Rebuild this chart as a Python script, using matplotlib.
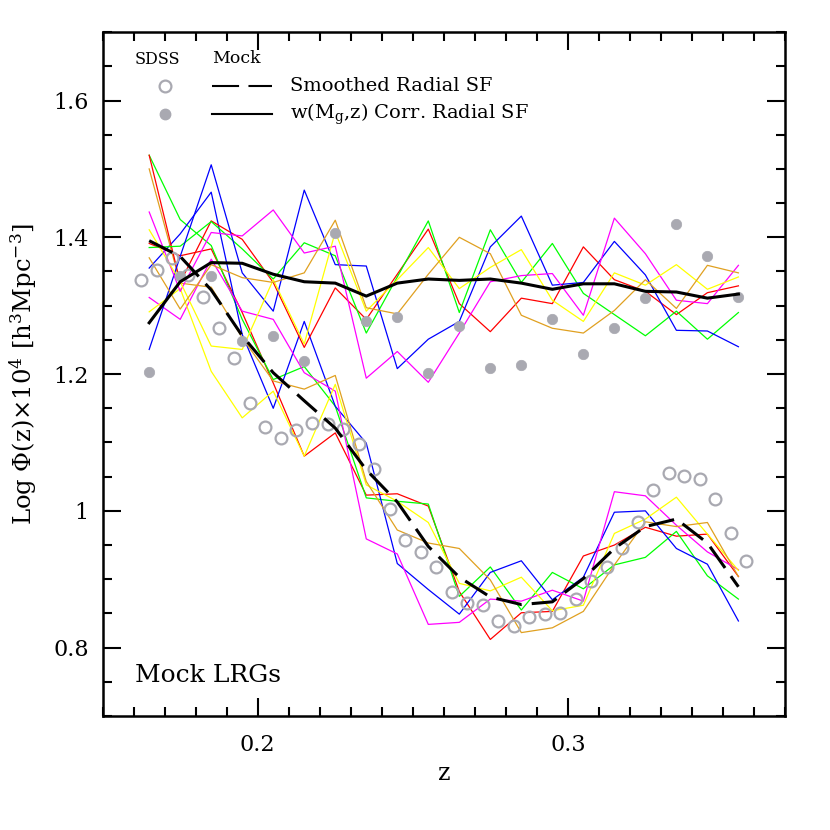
import matplotlib
matplotlib.use("Agg")
import matplotlib.pyplot as plt
from matplotlib.ticker import MultipleLocator, FixedLocator, FixedFormatter

plt.rcParams['font.family'] = ['DejaVu Serif']
plt.rcParams['mathtext.fontset'] = 'dejavuserif'

# ---------------- data ----------------
z_mock = [0.165, 0.175, 0.185, 0.195, 0.205, 0.215, 0.225, 0.235, 0.245, 0.255,
          0.265, 0.275, 0.285, 0.295, 0.305, 0.315, 0.325, 0.335, 0.345, 0.355]

# mock realisations, w(Mg,z) corrected radial selection function
w_red     = [1.520, 1.334, 1.424, 1.397, 1.334, 1.239, 1.326, 1.280, 1.346, 1.412,
             1.303, 1.262, 1.311, 1.303, 1.386, 1.338, 1.321, 1.287, 1.319, 1.329]
w_green   = [1.385, 1.387, 1.423, 1.383, 1.339, 1.392, 1.373, 1.260, 1.342, 1.424,
             1.290, 1.411, 1.334, 1.391, 1.318, 1.287, 1.256, 1.292, 1.251, 1.290]
w_blue    = [1.236, 1.372, 1.506, 1.348, 1.292, 1.469, 1.360, 1.358, 1.208, 1.251,
             1.277, 1.386, 1.431, 1.330, 1.334, 1.394, 1.345, 1.264, 1.263, 1.240]
w_magenta = [1.437, 1.321, 1.407, 1.402, 1.440, 1.377, 1.387, 1.194, 1.233, 1.188,
             1.260, 1.335, 1.344, 1.347, 1.286, 1.428, 1.376, 1.308, 1.303, 1.359]
w_yellow  = [1.411, 1.335, 1.241, 1.236, 1.338, 1.244, 1.408, 1.292, 1.338, 1.385,
             1.325, 1.356, 1.382, 1.308, 1.277, 1.348, 1.330, 1.360, 1.324, 1.342]
w_orange  = [1.370, 1.295, 1.360, 1.341, 1.334, 1.348, 1.425, 1.297, 1.288, 1.346,
             1.400, 1.376, 1.286, 1.267, 1.260, 1.293, 1.338, 1.296, 1.359, 1.348]

# mock realisations, smoothed radial selection function
s_red     = [1.391, 1.373, 1.383, 1.290, 1.187, 1.080, 1.114, 1.023, 1.025, 1.007,
             0.882, 0.812, 0.851, 0.853, 0.934, 0.950, 0.976, 0.963, 0.966, 0.904]
s_green   = [1.520, 1.426, 1.388, 1.280, 1.192, 1.211, 1.153, 1.019, 1.014, 1.010,
             0.875, 0.918, 0.855, 0.910, 0.886, 0.921, 0.932, 0.970, 0.905, 0.871]
s_blue    = [1.355, 1.405, 1.466, 1.258, 1.150, 1.277, 1.153, 1.099, 0.923, 0.885,
             0.849, 0.910, 0.927, 0.870, 0.903, 0.998, 1.000, 0.945, 0.922, 0.839]
s_magenta = [1.312, 1.280, 1.368, 1.292, 1.280, 1.202, 1.175, 0.959, 0.937, 0.834,
             0.837, 0.871, 0.868, 0.884, 0.868, 1.028, 1.022, 0.979, 0.940, 0.914]
s_yellow  = [1.291, 1.325, 1.204, 1.136, 1.175, 1.080, 1.185, 1.038, 1.014, 0.983,
             0.894, 0.883, 0.903, 0.854, 0.862, 0.967, 0.988, 1.020, 0.966, 0.913]
s_orange  = [1.500, 1.333, 1.327, 1.253, 1.190, 1.178, 1.198, 1.043, 0.972, 0.953,
             0.945, 0.899, 0.822, 0.829, 0.853, 0.921, 0.984, 0.977, 0.983, 0.904]

# mock averages
mean_smoothed = [1.395, 1.372, 1.323, 1.256, 1.202, 1.161, 1.121, 1.060, 1.013, 0.948,
                 0.903, 0.874, 0.863, 0.867, 0.901, 0.945, 0.977, 0.988, 0.953, 0.889]
mean_wcorr    = [1.275, 1.335, 1.363, 1.362, 1.346, 1.335, 1.333, 1.314, 1.333, 1.339,
                 1.337, 1.339, 1.333, 1.324, 1.332, 1.332, 1.321, 1.320, 1.311, 1.317]

# SDSS, smoothed radial SF (open circles)
z_sdss_open = [0.1625, 0.1675, 0.1725, 0.1775, 0.1825, 0.1875, 0.1925, 0.1975,
               0.2025, 0.2075, 0.2125, 0.2175, 0.2225, 0.2275, 0.2325, 0.2375,
               0.2425, 0.2475, 0.2525, 0.2575, 0.2625, 0.2675, 0.2725, 0.2775,
               0.2825, 0.2875, 0.2925, 0.2975, 0.3025, 0.3075, 0.3125, 0.3175,
               0.3225, 0.3275, 0.3325, 0.3375, 0.3425, 0.3475, 0.3525, 0.3575]
sdss_open = [1.338, 1.352, 1.370, 1.345, 1.313, 1.268, 1.223, 1.157,
             1.122, 1.106, 1.118, 1.128, 1.127, 1.120, 1.098, 1.061,
             1.002, 0.957, 0.940, 0.918, 0.881, 0.865, 0.863, 0.839,
             0.832, 0.845, 0.849, 0.851, 0.871, 0.897, 0.918, 0.946,
             0.984, 1.031, 1.055, 1.051, 1.046, 1.017, 0.967, 0.927]

# SDSS, w(Mg,z) corrected radial SF (filled circles)
z_sdss_filled = z_mock
sdss_filled = [1.203, 1.343, 1.343, 1.249, 1.255, 1.219, 1.407, 1.277, 1.283, 1.201,
               1.271, 1.209, 1.213, 1.280, 1.229, 1.267, 1.311, 1.420, 1.373, 1.313]

line_colors = ['#ff0000', '#00ff00', '#0000ff', '#ff00ff', '#ffff00', '#e0a020']
w_lines = [w_red, w_green, w_blue, w_magenta, w_yellow, w_orange]
s_lines = [s_red, s_green, s_blue, s_magenta, s_yellow, s_orange]

grey = '#a9a9b1'

# ---------------- figure ----------------
fig = plt.figure(figsize=(8.3, 8.3), dpi=100)
ax = fig.add_axes([0.1237, 0.1373, 0.822, 0.824])

for c, yv in zip(line_colors, s_lines):
    ax.plot(z_mock, yv, color=c, lw=0.9, zorder=2)
for c, yv in zip(line_colors, w_lines):
    ax.plot(z_mock, yv, color=c, lw=0.9, zorder=2)

ax.plot(z_sdss_open, sdss_open, linestyle='none', marker='o', ms=8.5,
        mfc='none', mec=grey, mew=1.6, zorder=3)
ax.plot(z_sdss_filled, sdss_filled, linestyle='none', marker='o', ms=7.5,
        mfc=grey, mec=grey, mew=0.5, zorder=3)

ax.plot(z_mock, mean_wcorr, color='black', lw=2.2, zorder=4)
ax.plot(z_mock, mean_smoothed, color='black', lw=2.2, zorder=4,
        dashes=(8.5, 3.3))

ax.set_xlim(0.15, 0.37)
ax.set_ylim(0.7, 1.7)

ax.xaxis.set_major_locator(FixedLocator([0.2, 0.3]))
ax.xaxis.set_major_formatter(FixedFormatter(['0.2', '0.3']))
ax.xaxis.set_minor_locator(MultipleLocator(0.01))
ax.yaxis.set_major_locator(FixedLocator([0.8, 1.0, 1.2, 1.4, 1.6]))
ax.yaxis.set_major_formatter(FixedFormatter(['0.8', '1', '1.2', '1.4', '1.6']))
ax.yaxis.set_minor_locator(MultipleLocator(0.05))

ax.tick_params(which='both', direction='in', top=True, right=True,
               width=1.5, labelsize=16)
ax.tick_params(which='major', length=13)
ax.tick_params(which='minor', length=6.5)
ax.tick_params(axis='x', which='major', pad=13)
ax.tick_params(axis='y', which='major', pad=10)
for sp in ax.spines.values():
    sp.set_linewidth(1.8)

ax.set_xlabel('z', fontsize=17, labelpad=4)
ax.set_ylabel(r'Log $\Phi$(z)$\times$10$^4$ [h$^3$Mpc$^{-3}$]', fontsize=17.5, labelpad=10)

# legend (hand-built)
tr = ax.transAxes
ax.text(0.047, 0.960, 'SDSS', transform=tr, fontsize=11.5, va='center', ha='left')
ax.text(0.160, 0.962, 'Mock', transform=tr, fontsize=12.5, va='center', ha='left')
ax.plot([0.0913], [0.921], transform=tr, marker='o', ms=8.5, mfc='none',
        mec=grey, mew=1.6, linestyle='none', clip_on=False)
ax.plot([0.0913], [0.880], transform=tr, marker='o', ms=7.5, mfc=grey,
        mec=grey, linestyle='none', clip_on=False)
ax.plot([0.160, 0.248], [0.921, 0.921], transform=tr, color='black', lw=1.5,
        dashes=(13, 4.5))
ax.plot([0.160, 0.248], [0.880, 0.880], transform=tr, color='black', lw=1.5)
ax.text(0.2745, 0.921, 'Smoothed Radial SF', transform=tr, fontsize=14,
        va='center', ha='left')
ax.text(0.2745, 0.880, r'w(M$_{\rm g}$,z) Corr. Radial SF', transform=tr,
        fontsize=14, va='center', ha='left')

ax.text(0.047, 0.060, 'Mock LRGs', transform=tr, fontsize=18, va='center', ha='left')

fig.savefig('out.png', dpi=100)
